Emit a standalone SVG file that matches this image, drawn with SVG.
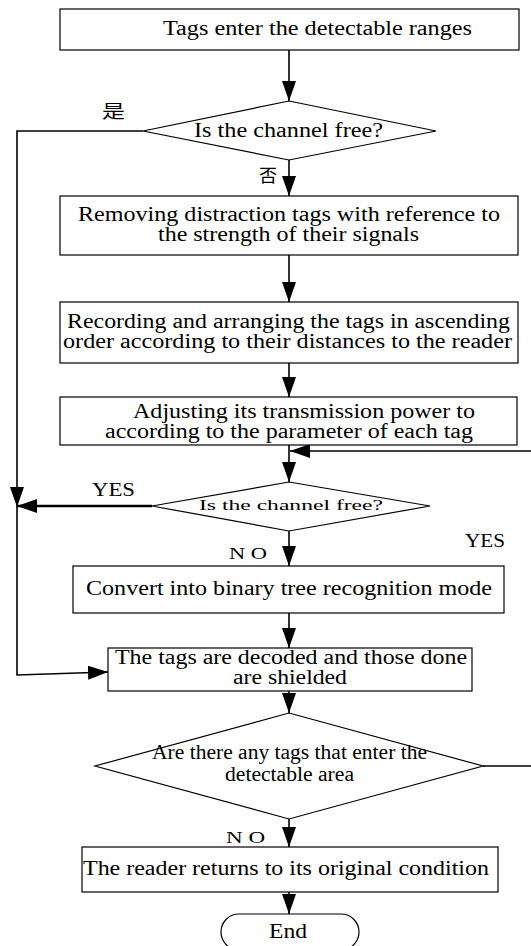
<svg xmlns="http://www.w3.org/2000/svg" width="531" height="946" viewBox="0 0 531 946">
<defs>
<style>
.box{fill:#fff;stroke:#000;stroke-width:1.2}
.t{font-family:"Liberation Serif","Times New Roman",serif;font-size:20px;fill:#000}
.s{font-size:15px}
.lbl{font-family:"Liberation Serif","Times New Roman",serif;font-size:19px;fill:#000}
.cjk{font-family:"Noto Sans CJK SC",sans-serif;font-size:18px;fill:#000}
.c{fill:none;stroke:#000;stroke-width:1.6}
.thick{stroke-width:2.6}
</style>
<marker id="ah" markerUnits="userSpaceOnUse" markerWidth="20" markerHeight="14" refX="20" refY="7" orient="auto" viewBox="0 0 20 14">
<path d="M0,0 L20,7 L0,14 z" fill="#000"/>
</marker>
</defs>
<rect width="531" height="946" fill="#fff"/>
<g id="connectors">
<path class="c" d="M289,50 V101" marker-end="url(#ah)"/>
<path class="c" d="M143,131 H17 V507" marker-end="url(#ah)"/>
<path class="c" d="M17,507 V675 L108,672" marker-end="url(#ah)"/>
<path class="c" d="M289,160 V196" marker-end="url(#ah)"/>
<path class="c" d="M289,255 V302" marker-end="url(#ah)"/>
<path class="c" d="M289,363 V397" marker-end="url(#ah)"/>
<path class="c" d="M289,445 V482" marker-end="url(#ah)"/>
<path class="c" d="M531,451 H290" marker-end="url(#ah)"/>
<path class="c thick" d="M152,506 H17" marker-end="url(#ah)"/>
<path class="c" d="M289,531 V566" marker-end="url(#ah)"/>
<path class="c" d="M289,613 V648" marker-end="url(#ah)"/>
<path class="c" d="M289,691 V713" marker-end="url(#ah)"/>
<path class="c" d="M483,766 H531"/>
<path class="c" d="M289,819 V847" marker-end="url(#ah)"/>
<path class="c" d="M289,892 V914" marker-end="url(#ah)"/>
<text class="cjk" x="102" y="118" textLength="23" lengthAdjust="spacingAndGlyphs">是</text>
<text class="cjk" x="259" y="182" textLength="18" lengthAdjust="spacingAndGlyphs">否</text>
<text class="lbl" x="92" y="496" textLength="43" lengthAdjust="spacingAndGlyphs">YES</text>
<text class="lbl" x="465" y="547" textLength="40" lengthAdjust="spacingAndGlyphs">YES</text>
<text class="lbl" x="229" y="559" style="font-size:16px" textLength="38" lengthAdjust="spacingAndGlyphs">N O</text>
<text class="lbl" x="226" y="843" style="font-size:16px" textLength="39" lengthAdjust="spacingAndGlyphs">N O</text>
</g>
<g id="n1">
<rect class="box" x="60" y="9" width="459" height="41"/>
<text class="t" x="163" y="35" textLength="309" lengthAdjust="spacingAndGlyphs">Tags enter the detectable ranges</text>
</g>
<g id="d1">
<polygon class="box" points="289,101 436,131 289,160 143,131"/>
<text class="t" x="194" y="137" textLength="189" lengthAdjust="spacingAndGlyphs">Is the channel free?</text>
</g>
<g id="n2">
<rect class="box" x="60" y="196" width="458" height="59"/>
<text class="t" x="78" y="221" textLength="422" lengthAdjust="spacingAndGlyphs">Removing distraction tags with reference to</text>
<text class="t" x="158" y="241" textLength="261" lengthAdjust="spacingAndGlyphs">the strength of their signals</text>
</g>
<g id="n3">
<rect class="box" x="60" y="302" width="458" height="61"/>
<text class="t" x="67" y="328" textLength="443" lengthAdjust="spacingAndGlyphs">Recording and arranging the tags in ascending</text>
<text class="t" x="63" y="348" textLength="449" lengthAdjust="spacingAndGlyphs">order according to their distances to the reader</text>
</g>
<g id="n4">
<rect class="box" x="60" y="397" width="457" height="48"/>
<text class="t" x="133" y="418" textLength="342" lengthAdjust="spacingAndGlyphs">Adjusting its transmission power to</text>
<text class="t" x="105" y="438" textLength="368" lengthAdjust="spacingAndGlyphs">according to the parameter of each tag</text>
</g>
<g id="d2">
<polygon class="box" points="289,482 430,506 289,531 152,506"/>
<text class="t s" x="199" y="510" textLength="184" lengthAdjust="spacingAndGlyphs">Is the channel free?</text>
</g>
<g id="n5">
<rect class="box" x="73" y="566" width="431" height="47"/>
<text class="t" x="86" y="595" textLength="406" lengthAdjust="spacingAndGlyphs">Convert into binary tree recognition mode</text>
</g>
<g id="n6">
<rect class="box" x="108" y="648" width="364" height="43"/>
<text class="t" x="115" y="664" textLength="352" lengthAdjust="spacingAndGlyphs">The tags are decoded and those done</text>
<text class="t" x="233" y="684" textLength="114" lengthAdjust="spacingAndGlyphs">are shielded</text>
</g>
<g id="d3">
<polygon class="box" points="289,713 483,766 289,819 95,766"/>
<text class="t" x="152" y="759" textLength="275" lengthAdjust="spacingAndGlyphs">Are there any tags that enter the</text>
<text class="t" x="225" y="781" textLength="129" lengthAdjust="spacingAndGlyphs">detectable area</text>
</g>
<g id="n7">
<rect class="box" x="82" y="847" width="416" height="45"/>
<text class="t" x="83" y="875" textLength="406" lengthAdjust="spacingAndGlyphs">The reader returns to its original condition</text>
</g>
<g id="end">
<rect class="box" x="221" y="914" width="138" height="36" rx="18"/>
<text class="t" x="269" y="938" textLength="38" lengthAdjust="spacingAndGlyphs">End</text>
</g>
</svg>
